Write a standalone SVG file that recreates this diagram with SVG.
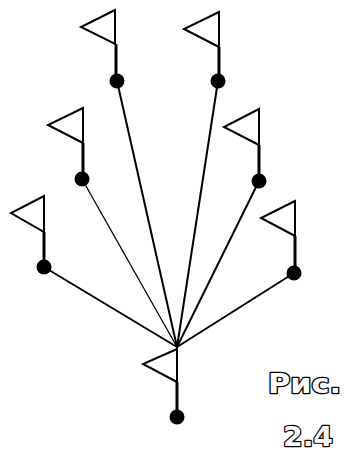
<svg xmlns="http://www.w3.org/2000/svg" width="347" height="456" viewBox="0 0 347 456">
<style>
.flag{fill:none;stroke:#000;stroke-width:2;stroke-linejoin:miter}
.pole{stroke:#000;stroke-width:3;fill:none}
.dot{fill:#000}
.con{stroke:#000;stroke-width:2;fill:none}
.thin{stroke-width:1.3}
.lbl{font-family:"DejaVu Sans",sans-serif;font-weight:bold;fill:#fff;stroke:#000;stroke-width:2.4;paint-order:stroke fill;stroke-linejoin:round}
</style>
<g id="connectors">
<line class="con" x1="117" y1="81" x2="177" y2="347"/>
<line class="con" x1="218" y1="81" x2="177" y2="347"/>
<line class="con thin" x1="82" y1="179" x2="177" y2="347"/>
<line class="con" x1="259" y1="181" x2="177" y2="347"/>
<line class="con" x1="44" y1="267" x2="177" y2="347"/>
<line class="con" x1="294" y1="273" x2="177" y2="347"/>
</g>
<g id="flag1">
<polygon class="flag" points="115,10 81,27 115,44"/>
<line class="pole" x1="116" y1="44" x2="116" y2="81"/>
<circle class="dot" cx="117" cy="81" r="7.5"/>
</g>
<g id="flag2">
<polygon class="flag" points="219,12 184,29 219,47"/>
<line class="pole" x1="219" y1="47" x2="219" y2="81"/>
<circle class="dot" cx="218" cy="81" r="7.5"/>
</g>
<g id="flag3">
<polygon class="flag" points="83,108 48,125 83,143"/>
<line class="pole" x1="83" y1="143" x2="83" y2="179"/>
<circle class="dot" cx="82" cy="179" r="7.5"/>
</g>
<g id="flag4">
<polygon class="flag" points="259,109 224,127 259,145"/>
<line class="pole" x1="259" y1="145" x2="259" y2="181"/>
<circle class="dot" cx="259" cy="181" r="7.5"/>
</g>
<g id="flag5">
<polygon class="flag" points="44,196 11,213 44,232"/>
<line class="pole" x1="44" y1="232" x2="44" y2="267"/>
<circle class="dot" cx="44" cy="267" r="7.5"/>
</g>
<g id="flag6">
<polygon class="flag" points="295,201 261,218 295,236"/>
<line class="pole" x1="295" y1="236" x2="295" y2="273"/>
<circle class="dot" cx="294" cy="273" r="7.5"/>
</g>
<g id="flag0">
<polygon class="flag" points="177,349 143,364 177,382"/>
<line class="con" x1="177" y1="347" x2="177" y2="382"/>
<line class="pole" x1="177" y1="382" x2="177" y2="417"/>
<circle class="dot" cx="177" cy="417" r="7.5"/>
</g>
<g id="caption">
<text class="lbl" x="268" y="393" font-size="26" textLength="73" lengthAdjust="spacingAndGlyphs">Рис.</text>
<text class="lbl" x="283" y="446" font-size="27" textLength="50" lengthAdjust="spacingAndGlyphs">2.4</text>
</g>
</svg>
